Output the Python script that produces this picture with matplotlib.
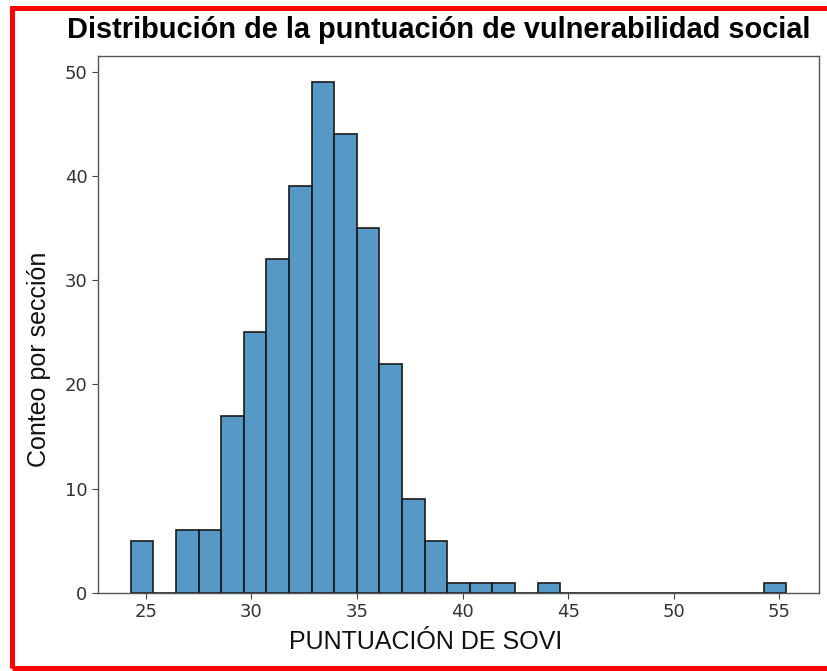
import matplotlib
matplotlib.use("Agg")
import matplotlib.pyplot as plt
from matplotlib.patches import Rectangle
import numpy as np

# Histogram data
bin_start = 24.29
bin_width = 1.070
counts = [5, 0, 6, 6, 17, 25, 32, 39, 49, 44, 35, 22, 9, 5, 1, 1, 1, 0, 1,
          0, 0, 0, 0, 0, 0, 0, 0, 0, 1]
x_ticks = [25, 30, 35, 40, 45, 50, 55]
y_ticks = [0, 10, 20, 30, 40, 50]

title = "Distribución de la puntuación de vulnerabilidad social"
xlabel = "PUNTUACIÓN DE SOVI"
ylabel = "Conteo por sección"

edges = bin_start + bin_width * np.arange(len(counts) + 1)
centers = (edges[:-1] + edges[1:]) / 2

W, H = 828, 671
fig = plt.figure(figsize=(W / 100, H / 100), dpi=100)
ax = fig.add_axes([98 / W, (H - 593) / H, 721 / W, 536.6 / H])

ax.hist(centers, bins=edges, weights=counts,
        facecolor=(0.122, 0.467, 0.706, 0.75), edgecolor="#1a1a1a", linewidth=1.2)

ax.set_xticks(x_ticks)
ax.set_yticks(y_ticks)
ax.tick_params(labelsize=13, colors="#444444", labelcolor="#333333", length=4)
for s in ax.spines.values():
    s.set_color("#555555")
    s.set_linewidth(1.0)

fig.text(439 / W, (H - 38) / H, title, fontsize=20.9, fontweight="bold",
         family="Liberation Sans", ha="center", va="baseline")
ax.set_xlabel(xlabel, fontsize=18, family="Liberation Sans", color="#111111")
ax.xaxis.set_label_coords((426 - 98) / 721, -(630 - 593) / 536.6)
ax.set_ylabel(ylabel, fontsize=18, family="Liberation Sans", color="#111111")
ax.yaxis.set_label_coords((51 - 98) / 721, (593 - 359) / 536.6)

# red frame around the figure
fig.patches.append(Rectangle((12 / W, 3 / H), 830 / W, 660 / H,
                             transform=fig.transFigure, fill=False,
                             edgecolor="red", linewidth=3.6))

fig.savefig("out.png", dpi=100)
